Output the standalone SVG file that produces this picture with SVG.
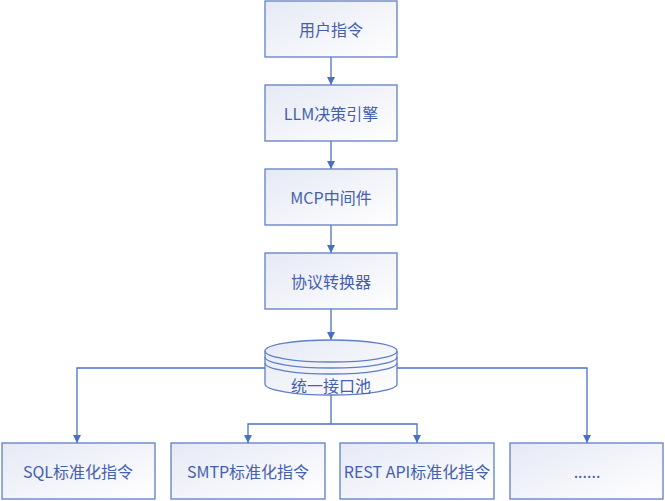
<svg xmlns="http://www.w3.org/2000/svg" width="665" height="501" viewBox="0 0 665 501">
<style>
.box{fill:url(#g);stroke:#5f7fc6;stroke-width:1.3}
.t{font-family:"Noto Sans CJK SC","Noto Sans",sans-serif;font-size:16px;fill:#4460ac;text-anchor:middle;dominant-baseline:central}
.c{fill:none;stroke:#4a70c4;stroke-width:1.3}
</style>
<defs>
<linearGradient id="g" x1="0" y1="0" x2="1" y2="1">
<stop offset="0" stop-color="#e6e9f5"/>
<stop offset="1" stop-color="#ffffff"/>
</linearGradient>
<marker id="a" viewBox="0 0 10 10" refX="10" refY="5" markerWidth="8" markerHeight="8" markerUnits="userSpaceOnUse" orient="auto">
<path d="M0,0 L10,5 L0,10 Z" fill="#4a70c4"/>
</marker>
</defs>
<g id="connectors">
<line class="c" x1="331" y1="57" x2="331" y2="85" marker-end="url(#a)"/>
<line class="c" x1="331" y1="141" x2="331" y2="169" marker-end="url(#a)"/>
<line class="c" x1="331" y1="225" x2="331" y2="253" marker-end="url(#a)"/>
<line class="c" x1="331" y1="309" x2="331" y2="340" marker-end="url(#a)"/>
<polyline class="c" points="265,368 77,368 77,443" marker-end="url(#a)"/>
<polyline class="c" points="397,368 587,368 587,443" marker-end="url(#a)"/>
<polyline class="c" points="331,395 331,424 248,424 248,443" marker-end="url(#a)"/>
<polyline class="c" points="331,424 417,424 417,443" marker-end="url(#a)"/>
</g>
<g id="n1"><rect class="box" x="265" y="1" width="132" height="56"/><text class="t" x="331" y="29">用户指令</text></g>
<g id="n2"><rect class="box" x="265" y="85" width="132" height="56"/><text class="t" x="331" y="113">LLM决策引擎</text></g>
<g id="n3"><rect class="box" x="265" y="169" width="132" height="56"/><text class="t" x="331" y="197">MCP中间件</text></g>
<g id="n4"><rect class="box" x="265" y="253" width="132" height="56"/><text class="t" x="331" y="281">协议转换器</text></g>
<g id="pool">
<path class="box" d="M265,351 A66,11 0 0 1 397,351 L397,384 A66,11 0 0 1 265,384 Z"/>
<path d="M265,351 A66,11 0 0 0 397,351 M265,357 A66,11 0 0 0 397,357 M265,363 A66,11 0 0 0 397,363" fill="none" stroke="#5f7fc6" stroke-width="1.3"/>
<text class="t" x="331" y="385">统一接口池</text>
</g>
<g id="b1"><rect class="box" x="2" y="443" width="153" height="56"/><text class="t" x="78" y="471">SQL标准化指令</text></g>
<g id="b2"><rect class="box" x="171" y="443" width="154" height="56"/><text class="t" x="248" y="471">SMTP标准化指令</text></g>
<g id="b3"><rect class="box" x="340" y="443" width="154" height="56"/><text class="t" x="417" y="471">REST API标准化指令</text></g>
<g id="b4"><rect class="box" x="510" y="443" width="153" height="56"/><text class="t" x="587" y="471">......</text></g>
</svg>
